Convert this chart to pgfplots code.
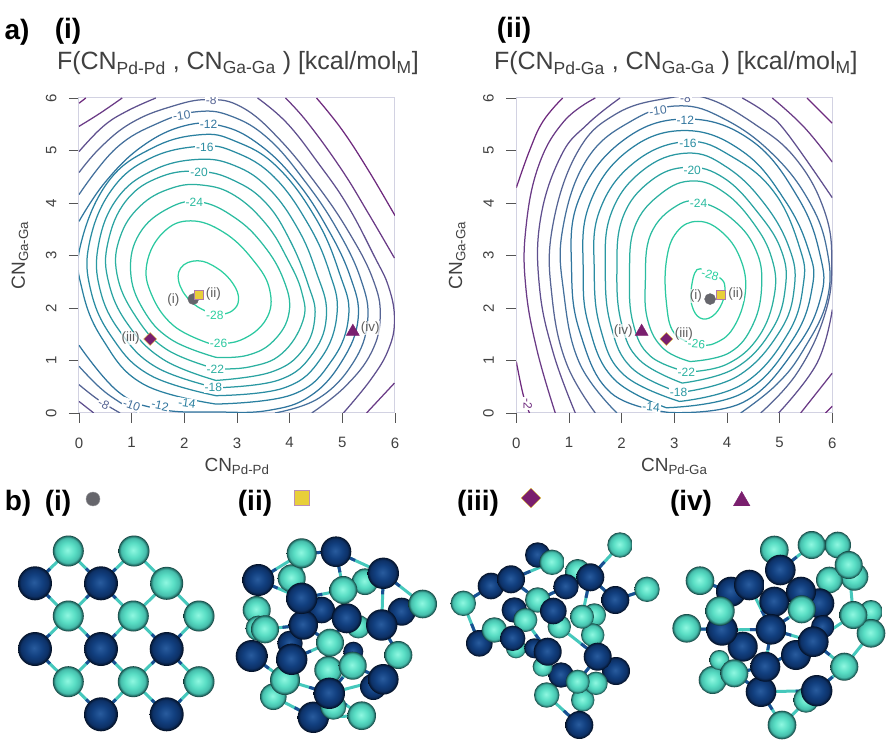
\documentclass[border=0pt]{standalone}
\usepackage{fontspec}
\setmainfont{Liberation Sans}
\usepackage{pgfplots}
\usepackage{pgfplotstable}
\pgfplotsset{compat=1.18}
\usetikzlibrary{plotmarks}

% contour level colours
\definecolor{lv2}{HTML}{6E2A7E}
\definecolor{lv4}{HTML}{6A3A86}
\definecolor{lv6}{HTML}{5F4F8E}
\definecolor{lv8}{HTML}{566494}
\definecolor{lv10}{HTML}{44709C}
\definecolor{lv12}{HTML}{30759E}
\definecolor{lv14}{HTML}{2A80A0}
\definecolor{lv16}{HTML}{2A8CA2}
\definecolor{lv18}{HTML}{2A98A2}
\definecolor{lv20}{HTML}{2AA3A1}
\definecolor{lv22}{HTML}{2BB0A0}
\definecolor{lv24}{HTML}{2BBCA0}
\definecolor{lv26}{HTML}{2BC8A0}
\definecolor{lv28}{HTML}{2DD0A0}
\definecolor{framec}{HTML}{D2D2E2}
\definecolor{tickc}{HTML}{555555}
\definecolor{txtc}{HTML}{404040}
\definecolor{mplum}{HTML}{7A1F6E}
\definecolor{myel}{HTML}{E8CF3A}
\definecolor{mgrey}{HTML}{66666C}
\definecolor{bondga}{HTML}{45C8BC}
\definecolor{bondpd}{HTML}{1A4F92}

% spheres
\pgfdeclareradialshading{pdshade}{\pgfpoint{-1.5bp}{1.5bp}}{rgb(0bp)=(0.16,0.36,0.62);rgb(12bp)=(0.07,0.25,0.50);rgb(20bp)=(0.05,0.19,0.40);rgb(24bp)=(0.02,0.09,0.20);rgb(26.5bp)=(0,0.01,0.03);rgb(50bp)=(0,0,0)}
\pgfdeclareradialshading{gashade}{\pgfpoint{-1.5bp}{1.5bp}}{rgb(0bp)=(0.56,0.97,0.88);rgb(12bp)=(0.35,0.87,0.77);rgb(20bp)=(0.27,0.74,0.67);rgb(24bp)=(0.11,0.36,0.34);rgb(26.5bp)=(0.01,0.06,0.06);rgb(50bp)=(0,0,0)}
\pgfdeclareplotmark{pdball}{\pgfpathcircle{\pgfpointorigin}{\pgfplotmarksize}\pgfshadepath{pdshade}{0}\pgfusepath{discard}}
\pgfdeclareplotmark{gaball}{\pgfpathcircle{\pgfpointorigin}{\pgfplotmarksize}\pgfshadepath{gashade}{0}\pgfusepath{discard}}

\newcommand\sbs[1]{\textsubscript{#1}}
\newcommand\clab[5][0]{\node[fill=white,inner sep=1pt,rotate=#1,text=#4,font=\fontsize{12}{12}\selectfont] at (axis cs:#2,#3) {#5};}
\newcommand\mlab[3]{\node[fill=white,fill opacity=.7,text opacity=1,inner sep=.5pt,text=txtc!85,font=\fontsize{13.5}{13.5}\selectfont] at (axis cs:#1,#2) {#3};}

\pgfplotsset{
  cl/.style={no marks,smooth,tension=0.7,line width=1.25pt},
  contour/.style={
    scale only axis,width=316pt,height=315pt,
    xmin=0,xmax=6,ymin=0,ymax=6,
    xtick={0,...,6},ytick={0,...,6},
    xtick pos=bottom,ytick pos=left,tick align=outside,
    major tick length=10pt,
    tick style={color=tickc,line width=.9pt},
    axis line style={color=framec,line width=1pt},
    /pgf/number format/assume math mode=true,
    tick label style={font=\fontsize{15}{15}\selectfont,text=txtc},
    xticklabel style={yshift=-11pt},
    yticklabel style={rotate=90,anchor=south,xshift=0pt,yshift=9pt},
    xlabel style={at={(axis description cs:0.5,-0.17)},anchor=center,font=\fontsize{19}{19}\selectfont,text=txtc},
    ylabel style={at={(axis description cs:-0.187,0.5)},anchor=center,font=\fontsize{19}{19}\selectfont,text=txtc},
  },
  atoms/.style={
    only marks,scatter,scatter src=explicit symbolic,
    scatter/classes={p={mark=pdball},g={mark=gaball}},
    visualization depends on={\thisrow{r}\as\rr},
    scatter/@pre marker code/.append style={/tikz/mark size=\rr pt},
  },
  bga/.style={no marks,color=bondga,line width=3pt,unbounded coords=jump},
  bpd/.style={no marks,color=bondpd,line width=3pt,unbounded coords=jump,dash pattern=on 21pt off 300pt},
}

\pgfplotstableread{
x y r c
35 583.3 17 p
101 583.3 17 p
35 649 17 p
101 649 17 p
166.7 649 17 p
101 714.3 17 p
166.7 714.3 17 p
68.3 551 15.5 g
134 551 15.5 g
166.7 583.3 16.5 g
68.3 616 15.5 g
133.3 616 15.5 g
199 616 15.5 g
68.3 681.7 15.5 g
133.3 681.7 15.5 g
199 681.7 15.5 g
}\atomsA
\pgfplotstableread{
x y r c
291.7 578.3 14 g
365 581.7 13.3 g
256.7 610 14 g
258.3 628.3 12.7 g
321.7 610 13.3 p
401.7 611.7 14 p
290 643.3 12.7 p
328.3 670 14 g
358.3 626.7 11.7 g
353.3 651.7 10 p
301.7 553.3 15 g
336 551.7 15.3 p
383.3 573.3 15.7 p
258.3 580 16 p
251.7 656 16 p
422.7 604 14.3 g
398.3 655 14 g
273.3 696.7 13.3 g
285 680 15 g
265 629.3 14 g
303.3 625 14.7 p
346.7 618.3 15 p
381.7 625 15.7 p
301.7 598.3 15.7 p
343.3 590 14 g
330 642.7 14 g
291.7 659.3 15.7 p
352.7 665.7 14 g
373.3 686.7 13.3 p
383.3 679.3 15.3 p
313.3 717.3 15.7 p
333.3 706.7 13 g
329.3 693.3 15.7 p
361.7 715.7 14.3 g
}\atomsB
\pgfplotstableread{
x y r c
537.7 555 12.7 p
577.7 571.7 12.7 g
491 586 13.3 p
566 586.7 12.7 p
463.3 603.3 12.7 g
594.3 615 11.7 g
514.3 610 12.7 p
537.7 600 12.7 g
592.7 635 11.7 g
559.3 626.7 11.7 g
516 648.3 10 g
479.3 643.3 13.3 p
494.3 630 12.7 g
511 579.3 14 p
552 562.3 12.7 g
590.3 577.3 14 p
620 545 12.7 g
647 589.3 12.7 g
615.3 600 14 p
553.3 611 13.3 p
582 616.7 12 g
525.3 620 12 g
512.7 638.3 12.7 p
534.3 648.3 10 p
616 671 14 p
561 675 12.7 p
542.7 666.7 10 g
547.7 651.7 14 p
597.7 656.7 14 p
582.7 700 11.7 g
596 683.3 11.7 g
546.7 695 12.7 g
577.7 681.7 12 g
579.3 725 14 p
}\atomsC
\pgfplotstableread{
x y r c
774.3 550 14.3 g
837.7 545 13.3 g
811.7 545 14 g
854.3 576.7 14 g
829.3 580 13.3 g
731 591.7 15 p
819.3 603.3 15 p
774.3 601.7 15 p
871 611.7 11.7 g
871 633.3 14.3 g
742.7 646.7 15 p
822.7 626.7 11.7 p
796 655 15 p
806 700 12.7 g
712.7 680 14 g
719.3 660 10 g
700 580.7 14.3 g
686.7 628.3 14.3 g
722 630 15.7 p
780.3 570 15.3 p
801 591.7 15 p
848.7 565 14 g
749.3 585 15.3 p
853.3 615 14 g
801.7 609.3 14 g
720 611 14.7 g
761 691.7 15.3 p
771 629.3 15.3 p
813.3 641.7 15.3 p
844.3 666.7 14 g
765.3 666.7 15 p
734.3 673.3 14 g
816.7 690.7 15.7 p
782 725 14.3 g
}\atomsD

% bonds, Pd end first
\pgfplotstableread[row sep=\\]{
x y\\
35 583.3\\ 68.3 551\\ nan nan\\
101 583.3\\ 68.3 551\\ nan nan\\
101 583.3\\ 134 551\\ nan nan\\
35 583.3\\ 68.3 616\\ nan nan\\
101 583.3\\ 68.3 616\\ nan nan\\
101 583.3\\ 133.3 616\\ nan nan\\
35 649\\ 68.3 616\\ nan nan\\
101 649\\ 68.3 616\\ nan nan\\
101 649\\ 133.3 616\\ nan nan\\
166.7 649\\ 133.3 616\\ nan nan\\
166.7 649\\ 199 616\\ nan nan\\
35 649\\ 68.3 681.7\\ nan nan\\
101 649\\ 68.3 681.7\\ nan nan\\
101 649\\ 133.3 681.7\\ nan nan\\
166.7 649\\ 133.3 681.7\\ nan nan\\
166.7 649\\ 199 681.7\\ nan nan\\
101 714.3\\ 68.3 681.7\\ nan nan\\
101 714.3\\ 133.3 681.7\\ nan nan\\
166.7 714.3\\ 133.3 681.7\\ nan nan\\
166.7 714.3\\ 199 681.7\\ nan nan\\
}\bondsA
\pgfplotstableread[row sep=\\]{
x y\\
336 551.7\\ 301.7 553.3\\ nan nan\\
336 551.7\\ 343.3 590\\ nan nan\\
383.3 573.3\\ 343.3 590\\ nan nan\\
383.3 573.3\\ 422.7 604\\ nan nan\\
383.3 573.3\\ 381.7 625\\ nan nan\\
336 551.7\\ 383.3 573.3\\ nan nan\\
301.7 598.3\\ 301.7 553.3\\ nan nan\\
301.7 598.3\\ 343.3 590\\ nan nan\\
258.3 580\\ 301.7 553.3\\ nan nan\\
258.3 580\\ 256.7 610\\ nan nan\\
258.3 580\\ 301.7 598.3\\ nan nan\\
303.3 625\\ 265 629.3\\ nan nan\\
303.3 625\\ 330 642.7\\ nan nan\\
346.7 618.3\\ 343.3 590\\ nan nan\\
346.7 618.3\\ 330 642.7\\ nan nan\\
381.7 625\\ 398.3 655\\ nan nan\\
381.7 625\\ 422.7 604\\ nan nan\\
401.7 611.7\\ 422.7 604\\ nan nan\\
383.3 679.3\\ 398.3 655\\ nan nan\\
383.3 679.3\\ 352.7 665.7\\ nan nan\\
251.7 656\\ 265 629.3\\ nan nan\\
251.7 656\\ 285 680\\ nan nan\\
291.7 659.3\\ 330 642.7\\ nan nan\\
291.7 659.3\\ 285 680\\ nan nan\\
329.3 693.3\\ 352.7 665.7\\ nan nan\\
329.3 693.3\\ 285 680\\ nan nan\\
329.3 693.3\\ 361.7 715.7\\ nan nan\\
313.3 717.3\\ 273.3 696.7\\ nan nan\\
313.3 717.3\\ 361.7 715.7\\ nan nan\\
329.3 693.3\\ 330 642.7\\ nan nan\\
383.3 679.3\\ 329.3 693.3\\ nan nan\\
346.7 618.3\\ 381.7 625\\ nan nan\\
}\bondsB
\pgfplotstableread[row sep=\\]{
x y\\
590.3 577.3\\ 620 545\\ nan nan\\
615.3 600\\ 647 589.3\\ nan nan\\
590.3 577.3\\ 615.3 600\\ nan nan\\
590.3 577.3\\ 577.7 571.7\\ nan nan\\
590.3 577.3\\ 582 616.7\\ nan nan\\
553.3 611\\ 537.7 600\\ nan nan\\
511 579.3\\ 552 562.3\\ nan nan\\
511 579.3\\ 537.7 600\\ nan nan\\
491 586\\ 463.3 603.3\\ nan nan\\
479.3 643.3\\ 463.3 603.3\\ nan nan\\
479.3 643.3\\ 494.3 630\\ nan nan\\
514.3 610\\ 525.3 620\\ nan nan\\
512.7 638.3\\ 494.3 630\\ nan nan\\
512.7 638.3\\ 525.3 620\\ nan nan\\
547.7 651.7\\ 525.3 620\\ nan nan\\
547.7 651.7\\ 542.7 666.7\\ nan nan\\
597.7 656.7\\ 592.7 635\\ nan nan\\
597.7 656.7\\ 559.3 626.7\\ nan nan\\
597.7 656.7\\ 577.7 681.7\\ nan nan\\
561 675\\ 546.7 695\\ nan nan\\
561 675\\ 577.7 681.7\\ nan nan\\
579.3 725\\ 546.7 695\\ nan nan\\
579.3 725\\ 582.7 700\\ nan nan\\
616 671\\ 596 683.3\\ nan nan\\
566 586.7\\ 537.7 600\\ nan nan\\
566 586.7\\ 577.7 571.7\\ nan nan\\
537.7 555\\ 552 562.3\\ nan nan\\
491 586\\ 511 579.3\\ nan nan\\
553.3 611\\ 559.3 626.7\\ nan nan\\
}\bondsC
\pgfplotstableread[row sep=\\]{
x y\\
780.3 570\\ 774.3 550\\ nan nan\\
780.3 570\\ 811.7 545\\ nan nan\\
749.3 585\\ 720 611\\ nan nan\\
731 591.7\\ 700 580.7\\ nan nan\\
722 630\\ 686.7 628.3\\ nan nan\\
722 630\\ 720 611\\ nan nan\\
771 629.3\\ 801.7 609.3\\ nan nan\\
771 629.3\\ 749.3 585\\ nan nan\\
771 629.3\\ 722 630\\ nan nan\\
771 629.3\\ 765.3 666.7\\ nan nan\\
771 629.3\\ 813.3 641.7\\ nan nan\\
765.3 666.7\\ 734.3 673.3\\ nan nan\\
765.3 666.7\\ 813.3 641.7\\ nan nan\\
761 691.7\\ 734.3 673.3\\ nan nan\\
761 691.7\\ 782 725\\ nan nan\\
816.7 690.7\\ 761 691.7\\ nan nan\\
816.7 690.7\\ 844.3 666.7\\ nan nan\\
816.7 690.7\\ 782 725\\ nan nan\\
813.3 641.7\\ 844.3 666.7\\ nan nan\\
813.3 641.7\\ 853.3 615\\ nan nan\\
801 591.7\\ 801.7 609.3\\ nan nan\\
}\bondsD

\begin{document}
\begin{tikzpicture}[x=1pt,y=1pt]
\useasboundingbox (0,0) rectangle (892,746);

% page text
\begin{scope}[font=\fontsize{28}{28}\selectfont\bfseries,text=black]
\node at (17,{746-32}) {a)};
\node at (68,{746-31}) {(i)};
\node at (514,{746-30}) {(ii)};
\node at (18,{746-503}) {b)};
\node at (58,{746-503}) {(i)};
\node at (255,{746-503}) {(ii)};
\node at (478,{746-503}) {(iii)};
\node at (691,{746-503}) {(iv)};
\end{scope}
\begin{scope}[font=\fontsize{25}{27}\selectfont,text=txtc]
\node[anchor=base west] at (53.5,{746-70}) {F(CN\sbs{Pd-Pd} , CN\sbs{Ga-Ga} ) [kcal/mol\sbs{M}]};
\node[anchor=base west] at (490.5,{746-70}) {F(CN\sbs{Pd-Ga} , CN\sbs{Ga-Ga} ) [kcal/mol\sbs{M}]};
\end{scope}

% page canvas in image pixels: legend marks and spheres of panel b
\begin{axis}[at={(0,0)},anchor=south west,scale only axis,width=892pt,height=746pt,
  xmin=0,xmax=892,ymin=0,ymax=746,y dir=reverse,hide axis,clip=false]
\addplot[only marks,mark=*,mark size=7pt,mark options={fill=mgrey,draw=mgrey!70}] coordinates {(93,499)};
\addplot[only marks,mark=square*,mark size=7.5pt,mark options={fill=myel,draw=mplum!50}] coordinates {(302,498)};
\addplot[only marks,mark=square*,mark size=7pt,mark options={rotate=45,fill=mplum,draw=myel}] coordinates {(531,498)};
\addplot[only marks,mark=triangle*,mark size=9.5pt,mark options={fill=mplum,draw=mplum}] coordinates {(741.7,501)};

\addplot[bga] table[x=x,y=y] {\bondsA};
\addplot[bpd] table[x=x,y=y] {\bondsA};
\addplot[bga] coordinates {(134,551) (166.7,583.3) (133.3,616)};
\addplot[bga] coordinates {(166.7,583.3) (199,616)};
\addplot[atoms] table[x=x,y=y,meta=c] {\atomsA};

\addplot[bga] table[x=x,y=y] {\bondsB};
\addplot[bpd] table[x=x,y=y] {\bondsB};
\addplot[atoms] table[x=x,y=y,meta=c] {\atomsB};

\addplot[bga] table[x=x,y=y] {\bondsC};
\addplot[bpd] table[x=x,y=y] {\bondsC};
\addplot[atoms] table[x=x,y=y,meta=c] {\atomsC};

\addplot[bga] table[x=x,y=y] {\bondsD};
\addplot[bpd] table[x=x,y=y] {\bondsD};
\addplot[bga] coordinates {(848.7,565) (853.3,615) (871,633.3) (844.3,666.7)};
\addplot[atoms] table[x=x,y=y,meta=c] {\atomsD};
\end{axis}

% panel a(i)
\begin{axis}[contour,at={(79pt,333pt)},anchor=south west,
  xlabel={CN\sbs{Pd-Pd}},ylabel={CN\sbs{Ga-Ga}}]
\addplot[cl,lv28] coordinates {(2.61,1.86)(2.20,2.06)(1.92,2.42)(1.93,2.76)(2.25,2.90)(2.62,2.76)(2.92,2.47)(3.03,2.16)(2.90,1.94)(2.61,1.86)};
\addplot[cl,lv26] coordinates {(2.46,1.33)(1.80,1.66)(1.38,2.25)(1.29,2.85)(1.60,3.44)(2.12,3.66)(2.75,3.44)(3.30,2.92)(3.62,2.35)(3.55,1.78)(3.05,1.38)(2.46,1.33)};
\addplot[cl,lv24] coordinates {(2.60,1.06)(1.75,1.40)(1.22,1.97)(0.98,2.70)(1.15,3.42)(1.70,3.90)(2.30,4.02)(2.96,3.72)(3.50,3.20)(3.88,2.55)(3.99,1.92)(3.70,1.38)(3.20,1.10)(2.60,1.06)};
\addplot[cl,lv22] coordinates {(2.60,0.84)(1.65,1.22)(1.05,1.88)(0.72,2.65)(0.78,3.35)(1.16,3.94)(1.75,4.28)(2.35,4.34)(2.96,4.14)(3.55,3.60)(3.95,2.95)(4.23,2.30)(4.25,1.75)(3.85,1.13)(3.25,0.88)(2.60,0.84)};
\addplot[cl,lv20] coordinates {(2.60,0.62)(1.60,1.02)(0.92,1.70)(0.56,2.50)(0.55,3.25)(0.90,4.05)(1.55,4.50)(2.30,4.60)(2.96,4.42)(3.55,4.00)(4.00,3.30)(4.35,2.45)(4.48,1.84)(4.25,1.20)(3.65,0.78)(2.60,0.62)};
\addplot[cl,lv18] coordinates {(2.60,0.48)(1.47,0.87)(0.78,1.55)(0.40,2.35)(0.37,3.20)(0.72,4.08)(1.40,4.62)(2.25,4.83)(2.96,4.71)(3.60,4.28)(4.15,3.52)(4.50,2.70)(4.70,1.90)(4.45,1.15)(3.80,0.63)(2.60,0.48)};
\addplot[cl,lv16] coordinates {(2.60,0.33)(1.35,0.72)(0.62,1.45)(0.22,2.35)(0.20,3.25)(0.62,4.25)(1.35,4.85)(2.30,5.08)(2.96,4.97)(3.70,4.50)(4.35,3.60)(4.75,2.70)(4.90,1.90)(4.60,1.05)(3.90,0.48)(2.60,0.33)};
\addplot[cl,lv14] coordinates {(2.60,0.17)(1.22,0.55)(0.45,1.40)(0.06,2.35)(0.03,3.20)(0.55,4.40)(1.40,5.05)(2.30,5.30)(2.96,5.18)(3.75,4.70)(4.50,3.70)(4.95,2.65)(5.12,1.85)(4.80,1.00)(4.05,0.35)(2.60,0.17)};
\addplot[cl,lv12] coordinates {(0,1.29)(0.75,0.40)(1.55,0.07)(2.60,0.02)(3.60,0.05)(4.40,0.33)(5.00,1.00)(5.30,1.80)(5.15,2.60)(4.70,3.55)(4.10,4.45)(3.40,5.13)(2.70,5.47)(2.00,5.47)(1.20,5.08)(0.50,4.40)(0,3.65)};
\addplot[cl,lv10] coordinates {(0,0.89)(0.40,0.48)(0.78,0.20)(1.13,0)};
\addplot[cl,lv10] coordinates {(3.72,0)(4.55,0.28)(5.20,0.95)(5.48,1.75)(5.35,2.55)(4.90,3.50)(4.30,4.40)(3.60,5.22)(2.90,5.65)(2.25,5.74)(1.50,5.52)(0.70,5.04)(0,4.16)};
\addplot[cl,lv8] coordinates {(0,0.54)(0.37,0.25)(0.78,0)};
\addplot[cl,lv8] coordinates {(4.42,0)(5.05,0.50)(5.55,1.15)(5.72,1.85)(5.58,2.55)(5.15,3.40)(4.55,4.30)(3.80,5.22)(3.10,5.82)(2.45,5.97)(1.73,5.83)(1.00,5.53)(0.42,5.07)(0,4.58)};
\addplot[cl,lv6] coordinates {(0,4.98)(0.46,5.46)(0.91,5.75)(1.46,6)};
\addplot[cl,lv6] coordinates {(0,0.22)(0.28,0)};
\addplot[cl,lv6] coordinates {(3.39,6)(3.95,5.52)(4.55,4.75)(5.10,3.95)(5.60,3.00)(5.88,2.40)(5.99,1.78)(5.88,1.22)(5.55,0.65)(5.02,0)};
\addplot[cl,lv4] coordinates {(0,5.46)(0.40,5.71)(0.82,6)};
\addplot[cl,lv4] coordinates {(3.92,6)(4.35,5.52)(4.99,4.63)(5.49,3.81)(5.99,2.95)};
\addplot[cl,lv4] coordinates {(5.99,0.57)(5.46,0)};
\addplot[cl,lv2] coordinates {(0,5.90)(0.13,6)};
\addplot[cl,lv2] coordinates {(4.51,6)(4.99,5.40)(5.49,4.63)(6,3.76)};

\clab{2.51}{5.95}{lv8}{-8}
\clab[8]{1.95}{5.67}{lv10}{-10}
\clab{2.46}{5.49}{lv12}{-12}
\clab{2.39}{5.06}{lv16}{-16}
\clab{2.28}{4.59}{lv20}{-20}
\clab{2.19}{4.01}{lv24}{-24}
\clab{2.65}{1.32}{lv26}{-26}
\clab{2.58}{1.86}{lv28}{-28}
\clab{2.59}{0.84}{lv22}{-22}
\clab{2.55}{0.48}{lv18}{-18}
\clab[-8]{2.05}{0.18}{lv14}{-14}
\clab[-12]{1.54}{0.14}{lv12}{-12}
\clab[-20]{1.00}{0.15}{lv10}{-10}
\clab[-25]{0.47}{0.17}{lv8}{-8}

\addplot[only marks,mark=*,mark size=5.5pt,mark options={fill=mgrey,draw=mgrey}] coordinates {(2.17,2.17)};
\addplot[only marks,mark=square*,mark size=4.5pt,mark options={fill=myel,draw=mplum!60}] coordinates {(2.28,2.25)};
\addplot[only marks,mark=square*,mark size=4.6pt,mark options={rotate=45,fill=mplum,draw=myel}] coordinates {(1.35,1.41)};
\addplot[only marks,mark=triangle*,mark size=7.5pt,mark options={fill=mplum,draw=mplum}] coordinates {(5.20,1.55)};
\mlab{1.79}{2.16}{(i)}
\mlab{2.55}{2.27}{(ii)}
\mlab{0.98}{1.42}{(iii)}
\mlab{5.53}{1.62}{(iv)}
\end{axis}

% panel a(ii)
\begin{axis}[contour,at={(516.3pt,333pt)},anchor=south west,
  xlabel={CN\sbs{Pd-Ga}},ylabel={CN\sbs{Ga-Ga}}]
\addplot[cl,lv28] coordinates {(3.66,2.67)(3.43,2.73)(3.32,2.35)(3.34,2.03)(3.49,1.81)(3.72,1.84)(3.91,2.10)(3.96,2.41)(3.87,2.57)(3.66,2.67)};
\addplot[cl,lv26] coordinates {(3.42,1.31)(3.00,1.52)(2.85,2.10)(2.85,2.90)(3.05,3.45)(3.45,3.65)(3.90,3.45)(4.25,2.95)(4.35,2.30)(4.12,1.62)(3.75,1.32)(3.42,1.31)};
\addplot[cl,lv24] coordinates {(3.30,0.98)(2.80,1.22)(2.50,1.75)(2.45,2.50)(2.55,3.40)(3.05,3.95)(3.55,4.00)(4.15,3.65)(4.55,3.10)(4.66,2.45)(4.50,1.70)(4.05,1.15)(3.30,0.98)};
\addplot[cl,lv22] coordinates {(3.25,0.78)(2.55,1.08)(2.22,1.70)(2.15,2.60)(2.25,3.55)(2.75,4.18)(3.35,4.42)(3.95,4.20)(4.50,3.62)(4.85,2.95)(4.90,2.25)(4.60,1.45)(4.00,0.93)(3.25,0.78)};
\addplot[cl,lv20] coordinates {(3.15,0.57)(2.35,1.00)(2.00,1.70)(1.91,2.70)(2.02,3.72)(2.55,4.42)(3.25,4.68)(3.95,4.47)(4.60,3.80)(5.03,3.10)(5.11,2.40)(4.85,1.58)(4.15,0.85)(3.15,0.57)};
\addplot[cl,lv18] coordinates {(3.10,0.39)(2.20,0.85)(1.80,1.65)(1.69,2.70)(1.80,3.80)(2.40,4.62)(3.25,4.95)(4.00,4.68)(4.70,4.00)(5.18,3.15)(5.28,2.40)(5.00,1.55)(4.20,0.70)(3.10,0.39)};
\addplot[cl,lv16] coordinates {(3.10,0.22)(2.05,0.72)(1.60,1.60)(1.48,2.70)(1.58,3.85)(2.25,4.78)(3.25,5.17)(4.10,4.88)(4.90,4.20)(5.38,3.15)(5.45,2.45)(5.15,1.50)(4.30,0.55)(3.10,0.22)};
\addplot[cl,lv14] coordinates {(2.85,0.10)(1.85,0.65)(1.38,1.65)(1.27,2.70)(1.38,3.95)(2.10,4.98)(3.20,5.38)(4.30,4.98)(5.10,4.05)(5.55,3.10)(5.62,2.40)(5.25,1.40)(4.30,0.38)(2.85,0.10)};
\addplot[cl,lv12] coordinates {(2.90,0.01)(1.80,0.38)(1.22,1.50)(1.05,2.70)(1.18,4.05)(2.00,5.17)(3.20,5.60)(4.45,5.20)(5.35,4.10)(5.77,3.00)(5.78,2.20)(5.30,1.22)(4.30,0.20)(2.90,0.01)};
\addplot[cl,lv10] coordinates {(1.91,0)(1.20,0.95)(0.90,2.30)(0.88,3.50)(1.34,4.83)(2.20,5.57)(3.10,5.85)(3.95,5.60)(4.85,4.95)(5.55,4.05)(5.90,3.10)(5.90,2.15)(5.45,1.20)(4.95,0.55)(4.26,0)};
\addplot[cl,lv8] coordinates {(1.50,0)(0.95,0.95)(0.68,2.20)(0.68,3.50)(1.15,4.95)(1.90,5.70)(2.90,6)(3.60,6)(4.50,5.52)(5.30,4.85)(5.85,3.85)(5.99,2.85)(5.85,1.85)(5.33,0.76)(4.64,0)};
\addplot[cl,lv6] coordinates {(1.12,0)(0.70,1.15)(0.44,2.40)(0.46,3.70)(0.85,4.90)(1.35,5.50)(1.97,6)};
\addplot[cl,lv6] coordinates {(4.29,6)(4.75,5.71)(5.14,5.33)(6,4.10)};
\addplot[cl,lv6] coordinates {(6,1.97)(5.71,0.95)(4.98,0)};
\addplot[cl,lv4] coordinates {(0.74,0)(0.39,1.21)(0.18,2.40)(0.18,3.50)(0.42,4.70)(0.90,5.55)(1.50,6)};
\addplot[cl,lv4] coordinates {(4.86,6)(5.46,5.45)(6,4.78)};
\addplot[cl,lv4] coordinates {(6,0.76)(5.40,0)};
\addplot[cl,lv2] coordinates {(0,4.29)(0.26,5.02)(0.51,5.56)(0.88,6)};
\addplot[cl,lv2] coordinates {(0,0.98)(0.13,0.35)(0.25,0)};
\addplot[cl,lv2] coordinates {(5.52,6)(6,5.52)};
\addplot[cl,lv2] coordinates {(5.87,0)(6,0.13)};

\clab{3.21}{5.99}{lv8}{-8}
\clab[8]{2.69}{5.75}{lv10}{-10}
\clab{3.21}{5.57}{lv12}{-12}
\clab{3.26}{5.14}{lv16}{-16}
\clab{3.34}{4.63}{lv20}{-20}
\clab{3.46}{3.99}{lv24}{-24}
\clab[-15]{3.68}{2.63}{lv28}{-28}
\clab[-5]{3.42}{1.31}{lv26}{-26}
\clab{3.23}{0.78}{lv22}{-22}
\clab{3.08}{0.40}{lv18}{-18}
\clab[-5]{2.56}{0.11}{lv14}{-14}
\clab[-90]{0.22}{0.18}{lv2}{-2}

\addplot[only marks,mark=*,mark size=5.5pt,mark options={fill=mgrey,draw=mgrey}] coordinates {(3.68,2.17)};
\addplot[only marks,mark=square*,mark size=4.5pt,mark options={fill=myel,draw=mplum!60}] coordinates {(3.88,2.25)};
\addplot[only marks,mark=square*,mark size=4.6pt,mark options={rotate=45,fill=mplum,draw=myel}] coordinates {(2.85,1.41)};
\addplot[only marks,mark=triangle*,mark size=7.5pt,mark options={fill=mplum,draw=mplum}] coordinates {(2.38,1.55)};
\mlab{3.41}{2.23}{(i)}
\mlab{4.17}{2.27}{(ii)}
\mlab{3.18}{1.50}{(iii)}
\mlab{2.03}{1.56}{(iv)}
\end{axis}
\end{tikzpicture}
\end{document}
